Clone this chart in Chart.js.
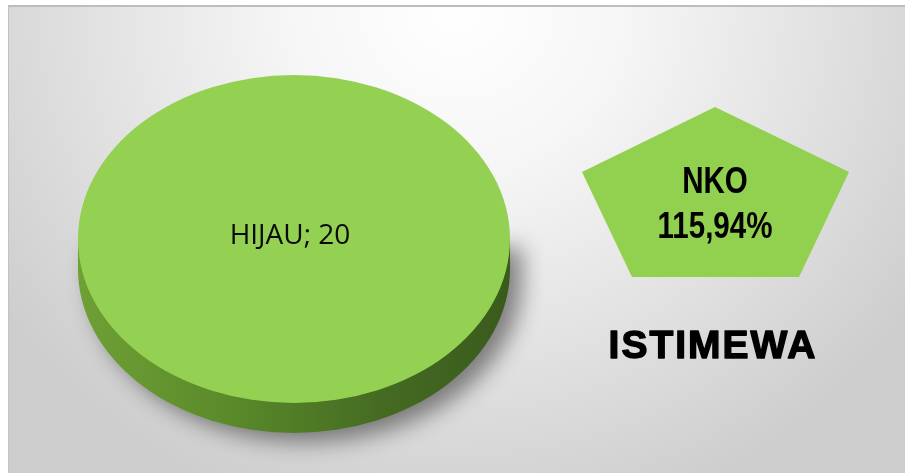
<!DOCTYPE html>
<html>
<head>
<meta charset="utf-8">
<script src="https://cdn.jsdelivr.net/npm/chart.js@4.4.1/dist/chart.umd.min.js"></script>
<style>
    html, body { margin: 0; padding: 0; background: #fff; }
    #wrap { position: relative; width: 905px; height: 473px; overflow: hidden; }
    #frame {
        position: absolute; left: 8px; top: 5px; right: 0; bottom: 0;
        border-top: 2px solid #bdbdbd;
        border-left: 1px solid #c2c2c2;
        background: radial-gradient(ellipse 62% 115% at 50% 0%, #ffffff 0%, #f6f6f6 30%, #e2e2e2 65%, #cdcdcd 100%);
    }
    #chart { position: absolute; left: 0; top: 0; }
</style>
</head>
<body>
<div id="wrap">
    <div id="frame"></div>
    <canvas id="chart" width="905" height="473"></canvas>
</div>
<script>
// Données du graphique
const categories = ['HIJAU'];
const values = [20];
const nkoLabel = 'NKO';
const nkoValue = '115,94%';
const statusLabel = 'ISTIMEWA';

// Camembert "3D" : on écrase le disque en ellipse et on dessine la tranche dessous
const pie3d = {
    id: 'pie3d',
    beforeDatasetsDraw(chart) {
        const arc = chart.getDatasetMeta(0).data[0];
        const { x, y, outerRadius: r } = arc;
        const ctx = chart.ctx;
        const k = 164 / 216;
        const ry = r * k;
        const depth = 30;

        ctx.save();
        ctx.shadowColor = 'rgba(0,0,0,0.45)';
        ctx.shadowBlur = 22;
        ctx.shadowOffsetX = 12;
        ctx.shadowOffsetY = 9;
        const g = ctx.createLinearGradient(x - r, 0, x + r, 0);
        g.addColorStop(0, '#6fa035');
        g.addColorStop(0.35, '#5a8a2a');
        g.addColorStop(0.7, '#456b22');
        g.addColorStop(1, '#3a5a1c');
        ctx.fillStyle = g;
        ctx.beginPath();
        ctx.ellipse(x, y + depth, r, ry, 0, 0, Math.PI);
        ctx.lineTo(x - r, y);
        ctx.lineTo(x + r, y);
        ctx.closePath();
        ctx.fill();
        ctx.restore();

        ctx.save();
        ctx.translate(x, y);
        ctx.scale(1, k);
        ctx.translate(-x, -y);
    },
    afterDatasetsDraw(chart) {
        const ctx = chart.ctx;
        ctx.restore();
        const arc = chart.getDatasetMeta(0).data[0];
        ctx.save();
        ctx.fillStyle = '#0a0a0a';
        ctx.font = '28px "Open Sans", sans-serif';
        ctx.textAlign = 'center';
        ctx.textBaseline = 'alphabetic';
        ctx.fillText(categories[0] + '; ' + values[0], arc.x - 4, 244);
        ctx.restore();
    }
};

// Texte condensé (pas de police "Narrow" installée)
function narrowText(ctx, text, x, y, sx) {
    ctx.save();
    ctx.translate(x, y);
    ctx.scale(sx, 1);
    ctx.fillText(text, 0, 0);
    ctx.restore();
}

// Pentagone NKO et mention à droite
const badge = {
    id: 'badge',
    afterDraw(chart) {
        const ctx = chart.ctx;
        ctx.save();
        ctx.fillStyle = '#92d050';
        ctx.beginPath();
        ctx.moveTo(715, 107);
        ctx.lineTo(849, 172);
        ctx.lineTo(799, 277);
        ctx.lineTo(632, 277);
        ctx.lineTo(582, 172);
        ctx.closePath();
        ctx.fill();

        ctx.fillStyle = '#000';
        ctx.textAlign = 'center';
        ctx.textBaseline = 'alphabetic';
        ctx.font = 'bold 36px "Liberation Sans", Arial, sans-serif';
        narrowText(ctx, nkoLabel, 715, 193, 0.82);
        narrowText(ctx, nkoValue, 715, 238, 0.82);

        ctx.font = 'bold 39px "Liberation Sans", Arial, sans-serif';
        ctx.letterSpacing = '2px';
        ctx.strokeStyle = '#000';
        ctx.lineWidth = 1.4;
        ctx.lineJoin = 'round';
        ctx.fillText(statusLabel, 713, 358);
        ctx.strokeText(statusLabel, 713, 358);
        ctx.restore();
    }
};

new Chart(document.getElementById('chart'), {
    type: 'pie',
    data: {
        labels: categories,
        datasets: [{
            data: values,
            backgroundColor: '#94d152',
            borderWidth: 0
        }]
    },
    options: {
        responsive: false,
        animation: false,
        layout: { padding: { left: 78, right: 395, top: 23, bottom: 18 } },
        plugins: {
            legend: { display: false },
            tooltip: { enabled: false }
        }
    },
    plugins: [pie3d, badge]
});
</script>
</body>
</html>
